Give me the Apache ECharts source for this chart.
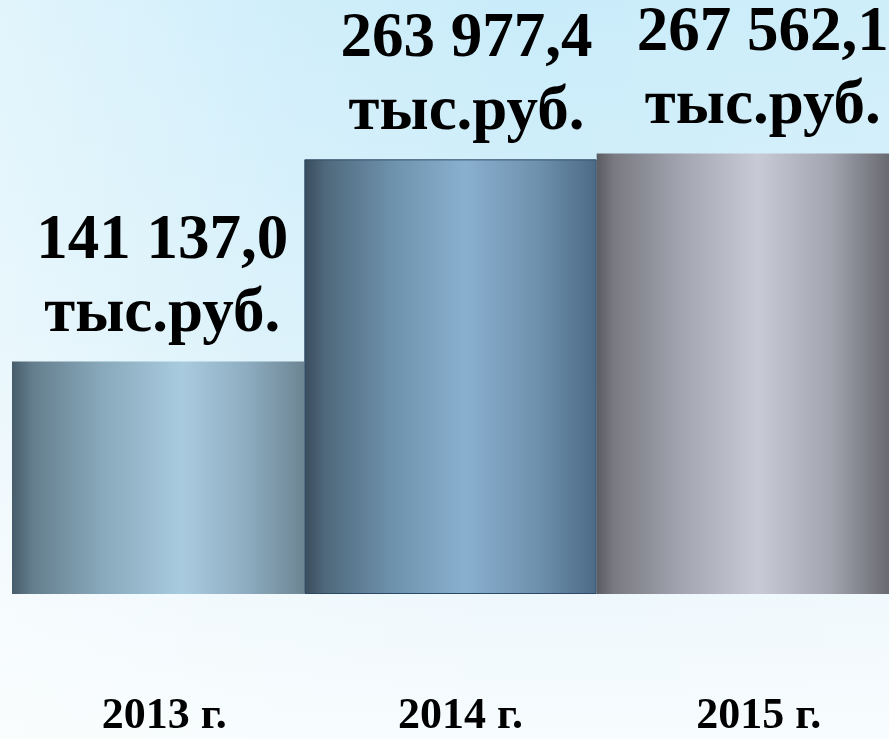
<!DOCTYPE html>
<html><head><meta charset="utf-8">
<script src="https://cdn.jsdelivr.net/npm/echarts@6/dist/echarts.min.js"></script>
<style>html,body{margin:0;padding:0;overflow:hidden;}#c{width:889px;height:739px;}</style>
</head><body><div id="c"></div>
<script>
var categories = ['2013 г.', '2014 г.', '2015 г.'];
var values = [141137.0, 263977.4, 267562.1];
var valueLabels = ['141 137,0', '263 977,4', '267 562,1'];
var unit = 'тыс.руб.';

var barGradients = [
  [[0,'#465c6b'],[0.07,'#647e8d'],[0.3,'#87a8ba'],[0.58,'#a9cbe0'],[0.8,'#8eadc1'],[1,'#6c8593']],
  [[0,'#384c5c'],[0.07,'#4f687b'],[0.3,'#6d92ac'],[0.55,'#8ab0d0'],[0.8,'#6e91ad'],[1,'#4b6a85']],
  [[0,'#5b5c61'],[0.06,'#797a81'],[0.3,'#a4a6b2'],[0.55,'#c8cad6'],[0.8,'#a2a4af'],[1,'#696a71']]
];
var borders = [null, '#2c4966', null];
var labelShift = [4, 16, 20];
var axisLabelShift = [12, 20, 32];

function grad(stops){
  return {type:'linear',x:0,y:0,x2:1,y2:0,colorStops:stops.map(function(s){return {offset:s[0],color:s[1]};})};
}

var data = values.map(function(v,i){
  var st = {color: grad(barGradients[i])};
  if (borders[i]) { st.borderColor = borders[i]; st.borderWidth = 1; }
  return {value: v, itemStyle: st, label:{offset:[labelShift[i],0]}};
});
var xData = categories.map(function(c,i){
  return {value:c, textStyle:{padding:[0,0,0,axisLabelShift[i]]}};
});

var chart = echarts.init(document.getElementById('c'));
chart.setOption({
  backgroundColor: {type:'linear',x:0,y:0,x2:0,y2:1,colorStops:[
    {offset:0,color:'#c9ecfa'},{offset:0.45,color:'#d6f0fa'},{offset:0.8,color:'#eef8fc'},{offset:1,color:'#f7fcfe'}]},
  graphic: [{
    type:'rect', z:-10, shape:{x:0,y:0,width:889,height:739},
    style:{fill:{type:'linear',x:0,y:0,x2:1,y2:0,colorStops:[
      {offset:0,color:'rgba(255,255,255,0.45)'},{offset:0.3,color:'rgba(255,255,255,0.15)'},{offset:0.6,color:'rgba(255,255,255,0)'},{offset:1,color:'rgba(255,255,255,0.1)'}]}}
  }],
  animation:false,
  grid:{left:12,right:0,top:100,bottom:140,containLabel:false},
  xAxis:{type:'category',data:xData,
    axisLine:{show:false},axisTick:{show:false},
    axisLabel:{margin:101,color:'#000',fontFamily:'Liberation Serif',fontWeight:'bold',fontSize:44,lineHeight:44}},
  yAxis:{type:'value',min:0,max:300000,show:false,splitLine:{show:false}},
  series:[{
    type:'bar',data:data,barCategoryGap:'0%',
    label:{show:true,position:'top',distance:10,color:'#000',
      fontFamily:'Liberation Serif',fontWeight:'bold',fontSize:63,lineHeight:73,
      formatter:function(p){return valueLabels[p.dataIndex]+'\n'+unit;}}
  }]
});
</script></body></html>
